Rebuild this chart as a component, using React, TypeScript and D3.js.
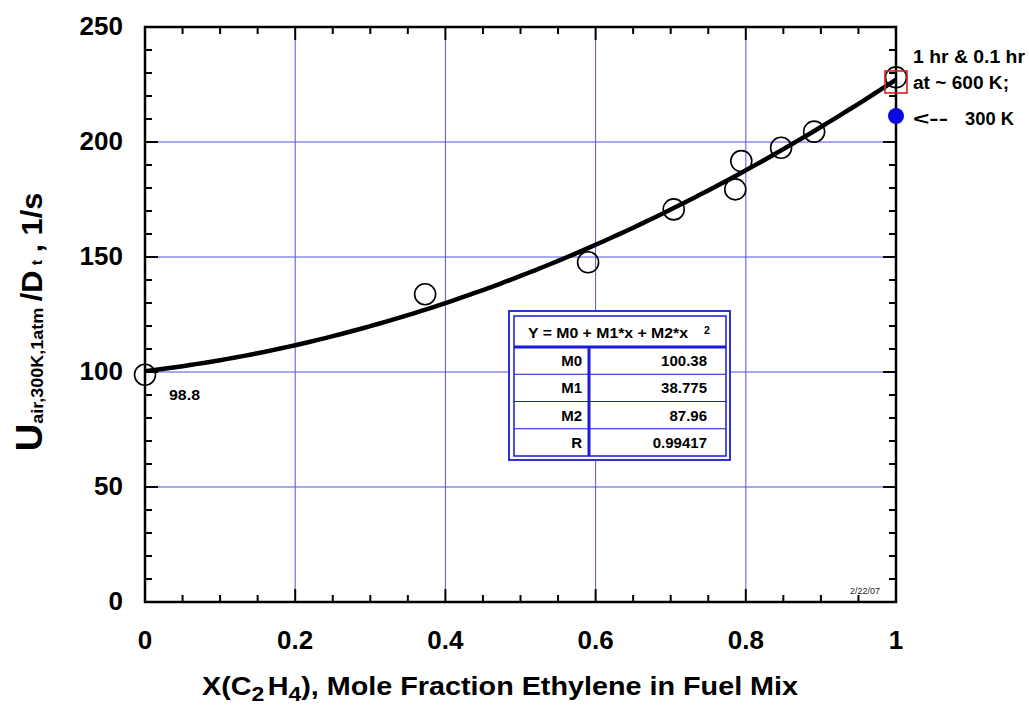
import React from 'react';
import * as d3 from 'd3';

const xTicks = [0, 0.2, 0.4, 0.6, 0.8, 1];
const xTickLabels = ['0', '0.2', '0.4', '0.6', '0.8', '1'];
const yTicks = [0, 50, 100, 150, 200, 250];
const yTickLabels = ['0', '50', '100', '150', '200', '250'];
const xGrid = [0.2, 0.4, 0.6, 0.8];
const yGrid = [50, 100, 150, 200];

const dataX = [0, 0.373, 0.59, 0.704, 0.786, 0.794, 0.847, 0.891, 1];
const dataY = [98.8, 133.8, 147.7, 170.7, 179.4, 191.7, 197.5, 204.5, 228.1];

const squareX = [1];
const squareY = [226.1];
const dotX = [1];
const dotY = [211.3];

const fitNames = ['M0', 'M1', 'M2', 'R'];
const fitValues = ['100.38', '38.775', '87.96', '0.99417'];
const M0 = 100.38;
const M1 = 38.775;
const M2 = 87.96;

const FONT = '"Liberation Sans", Arial, Helvetica, sans-serif';

export default function App() {
  const W = 1029;
  const H = 709;
  const x = d3.scaleLinear().domain([0, 1]).range([145, 896]);
  const y = d3.scaleLinear().domain([0, 250]).range([602, 27]);
  const [x0, x1] = x.range();
  const [y0, y1] = y.range();

  const minorX = d3.range(0, 1.0001, 0.05);
  const minorY = d3.range(0, 250.001, 10);

  const fitPts = d3.range(0, 1.0001, 0.01).map((v) => [v, M0 + M1 * v + M2 * v * v] as [number, number]);
  const line = d3.line<[number, number]>().x((d) => x(d[0])).y((d) => y(d[1]));

  const blue = '#1a1ad8';
  const grid = '#5353d8';

  // table layout
  const tbL = 509, tbT = 311, tbR = 730, tbB = 460;
  const inL = 514, inT = 316, inR = 726, inB = 456;
  const headB = 347;
  const rowH = (inB - headB) / 4;
  const colX = 589;

  return (
    <svg width={W} height={H} style={{ position: 'absolute', left: 0, top: 0, background: '#fff' }} fontFamily={FONT}>
      <rect x={0} y={0} width={W} height={H} fill="#fff" />
      {/* grid */}
      {xGrid.map((g) => (
        <line key={'gx' + g} x1={x(g)} x2={x(g)} y1={y0} y2={y1} stroke={grid} strokeWidth={1} />
      ))}
      {yGrid.map((g) => (
        <line key={'gy' + g} x1={x0} x2={x1} y1={y(g)} y2={y(g)} stroke={grid} strokeWidth={1} />
      ))}
      {/* ticks */}
      {minorX.map((t, i) => {
        const major = Math.abs(t * 5 - Math.round(t * 5)) < 1e-6;
        const len = major ? 13 : 7;
        return (
          <g key={'mx' + i}>
            <line x1={x(t)} x2={x(t)} y1={y0} y2={y0 - len} stroke="#000" strokeWidth={2} />
            <line x1={x(t)} x2={x(t)} y1={y1} y2={y1 + len} stroke="#000" strokeWidth={2} />
          </g>
        );
      })}
      {minorY.map((t, i) => {
        const major = t % 50 === 0;
        const len = major ? 13 : 7;
        return (
          <g key={'my' + i}>
            <line x1={x0} x2={x0 + len} y1={y(t)} y2={y(t)} stroke="#000" strokeWidth={2} />
            <line x1={x1} x2={x1 - len} y1={y(t)} y2={y(t)} stroke="#000" strokeWidth={2} />
          </g>
        );
      })}
      {/* frame */}
      <rect x={x0} y={y1} width={x1 - x0} height={y0 - y1} fill="none" stroke="#000" strokeWidth={2.5} />

      {/* tick labels */}
      {xTicks.map((t, i) => (
        <text key={'xl' + i} x={x(t)} y={649} textAnchor="middle" fontSize={26} fontWeight="bold">
          {xTickLabels[i]}
        </text>
      ))}
      {yTicks.map((t, i) => (
        <text key={'yl' + i} x={123} y={y(t) + 8} textAnchor="end" fontSize={26} fontWeight="bold">
          {yTickLabels[i]}
        </text>
      ))}

      {/* fit curve */}
      <path d={line(fitPts) || ''} fill="none" stroke="#000" strokeWidth={4.5} />

      {/* data */}
      {dataX.map((d, i) => (
        <circle key={'c' + i} cx={x(d)} cy={y(dataY[i])} r={10.5} fill="none" stroke="#000" strokeWidth={1.6} />
      ))}
      {squareX.map((d, i) => (
        <rect key={'s' + i} x={x(d) - 11} y={y(squareY[i]) - 11} width={22} height={22} fill="none" stroke="#d42020" strokeWidth={1.6} />
      ))}
      {dotX.map((d, i) => (
        <circle key={'d' + i} cx={x(d)} cy={y(dotY[i])} r={8} fill="#0a0ae0" />
      ))}

      <text x={169} y={400} fontSize={15.5} fontWeight="bold" textLength={31} lengthAdjust="spacingAndGlyphs">98.8</text>

      {/* right annotations */}
      <text x={913} y={63} fontSize={17.5} fontWeight="bold" textLength={112} lengthAdjust="spacingAndGlyphs">1 hr &amp; 0.1 hr</text>
      <text x={913} y={89} fontSize={17.5} fontWeight="bold" textLength={96} lengthAdjust="spacingAndGlyphs">at ~ 600 K;</text>
      <text x={913} y={125} fontSize={17.5} fontWeight="bold" textLength={35} lengthAdjust="spacingAndGlyphs">&lt;--</text>
      <text x={965} y={125} fontSize={17.5} fontWeight="bold" textLength={49} lengthAdjust="spacingAndGlyphs">300 K</text>

      <text x={880} y={594} fontSize={9} textAnchor="end" fill="#222">2/22/07</text>

      {/* fit table */}
      <rect x={tbL} y={tbT} width={tbR - tbL} height={tbB - tbT} fill="#fff" stroke={blue} strokeWidth={1.8} />
      <rect x={inL} y={inT} width={inR - inL} height={inB - inT} fill="#fff" stroke={blue} strokeWidth={1.5} />
      <line x1={inL} x2={inR} y1={headB} y2={headB} stroke={blue} strokeWidth={3} />
      {[1, 2, 3].map((k) => (
        <line key={'rl' + k} x1={inL} x2={inR} y1={headB + rowH * k} y2={headB + rowH * k} stroke={blue} strokeWidth={1.2} />
      ))}
      <line x1={colX} x2={colX} y1={headB} y2={inB} stroke={blue} strokeWidth={3} />
      <text x={528} y={338} fontSize={15} fontWeight="bold" textLength={160} lengthAdjust="spacingAndGlyphs">Y = M0 + M1*x + M2*x</text>
      <text x={707} y={334} textAnchor="middle" fontSize={10.5} fontWeight="bold">2</text>
      {fitNames.map((n, i) => (
        <g key={'row' + i}>
          <text x={582} y={headB + rowH * i + 19} textAnchor="end" fontSize={15} fontWeight="bold">{n}</text>
          <text x={707} y={headB + rowH * i + 19} textAnchor="end" fontSize={15} fontWeight="bold">{fitValues[i]}</text>
        </g>
      ))}

      {/* x axis title */}
      <g transform="translate(500,695) scale(1.15,1)">
        <text x={0} y={0} textAnchor="middle" fontSize={25} fontWeight="bold">
          <tspan>X(C</tspan>
          <tspan fontSize={20} dy={6}>2</tspan>
          <tspan dy={-6} dx={3}>H</tspan>
          <tspan fontSize={20} dy={6}>4</tspan>
          <tspan dy={-6}>), Mole Fraction Ethylene in Fuel Mix</tspan>
        </text>
      </g>

      {/* y axis title */}
      <g transform="translate(42,322) rotate(-90) scale(1.06,1)">
        <text x={0} y={0} textAnchor="middle" fontWeight="bold" fontSize={29}>
          <tspan fontSize={36}>U</tspan>
          <tspan fontSize={17} dy={1}>air,300K,1atm</tspan>
          <tspan dy={-1} dx={6}>/D</tspan>
          <tspan fontSize={15} dx={5}>t</tspan>
          <tspan dx={7}>, 1/s</tspan>
        </text>
      </g>
    </svg>
  );
}
